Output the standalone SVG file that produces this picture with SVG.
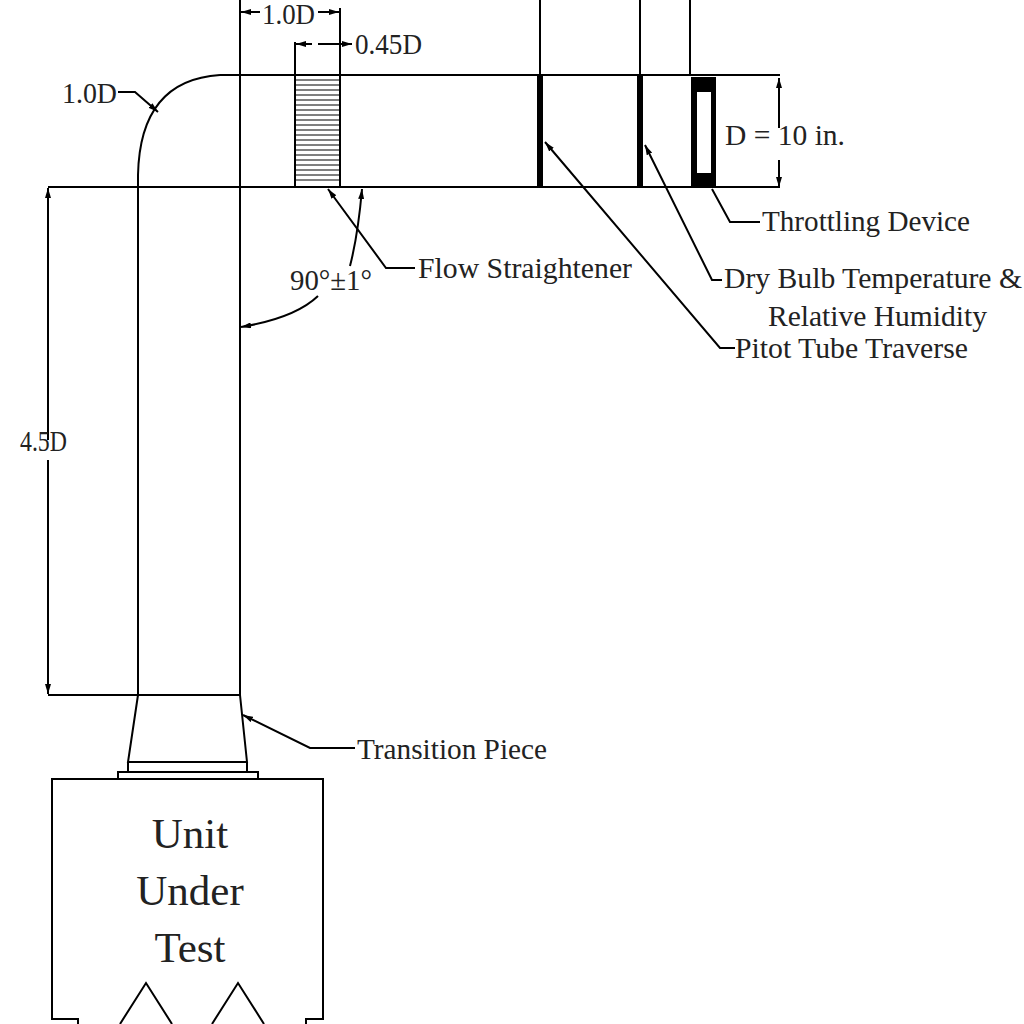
<svg xmlns="http://www.w3.org/2000/svg" width="1024" height="1024" viewBox="0 0 1024 1024">
<style>
.l{stroke:#000;stroke-width:2;fill:none}
.t{font-family:"Liberation Serif",serif;font-size:29px;fill:#222}
.b{font-family:"Liberation Serif",serif;font-size:43px;fill:#222;text-anchor:middle}
</style>
<defs>
<marker id="a" viewBox="0 0 10 6" refX="10" refY="3" markerWidth="10" markerHeight="6" orient="auto-start-reverse" markerUnits="userSpaceOnUse"><path d="M0,0L10,3L0,6z"/></marker>
</defs>
<rect width="1024" height="1024" fill="#fff"/>
<g id="duct">
<path class="l" d="M220,75H780M48,187H780M220,75Q140,80 138,175V695M240,0V695M48,695H240"/>
<path class="l" d="M540,0V75M640,0V75M690,0V75"/>
<rect x="537" y="75" width="6" height="112"/>
<rect x="637" y="75" width="6" height="112"/>
<rect x="691" y="77" width="25" height="111"/>
<rect x="697" y="92" width="14" height="81" fill="#fff"/>
</g>
<g id="straightener">
<rect class="l" x="295" y="75" width="45" height="112"/>
<path stroke="#000" stroke-width="1" d="M295,80H340M295,85H340M295,90H340M295,95H340M295,100H340M295,105H340M295,110H340M295,115H340M295,120H340M295,125H340M295,130H340M295,135H340M295,140H340M295,145H340M295,150H340M295,155H340M295,160H340M295,165H340M295,170H340M295,175H340M295,180H340"/>
</g>
<g id="transition">
<path class="l" d="M138,695L128,762H247L240,695M118,772H258V779H118zM128,762V772M247,762V772"/>
</g>
<g id="unit">
<path class="l" d="M78,1024V1019H52V779H323V1019H306V1024"/>
<path class="l" d="M120,1024L146,983L172,1024M212,1024L238,983L264,1024"/>
<text class="b" x="190" y="848">Unit</text>
<text class="b" x="190" y="905">Under</text>
<text class="b" x="190" y="962">Test</text>
</g>
<g id="connectors">
<path class="l" d="M340,8V75M295,42V75"/>
<path class="l" marker-end="url(#a)" d="M260,12H241"/>
<path class="l" marker-end="url(#a)" d="M318,12H339"/>
<path class="l" marker-end="url(#a)" d="M312,44H296"/>
<path class="l" marker-end="url(#a)" d="M318,44H339M339,44H352"/>
<path class="l" marker-end="url(#a)" d="M779,128V78"/>
<path class="l" marker-end="url(#a)" d="M779,160V187"/>
<path class="l" marker-end="url(#a)" d="M48,440V188"/>
<path class="l" marker-end="url(#a)" d="M48,460V694"/>
<path class="l" marker-end="url(#a)" d="M118,92H135L158,112"/>
<path class="l" marker-end="url(#a)" d="M350,266Q358,235 362,189"/>
<path class="l" marker-end="url(#a)" d="M318,296Q295,318 241,327"/>
<path class="l" marker-end="url(#a)" d="M415,268H386L328,189"/>
<path class="l" marker-end="url(#a)" d="M735,348H720L545,142"/>
<path class="l" marker-end="url(#a)" d="M722,280H712L645,145"/>
<path class="l" d="M760,222H730L712,189"/>
<path class="l" marker-end="url(#a)" d="M355,748H310L243,715"/>
</g>
<g id="labels">
<text class="t" x="262" y="24" textLength="53" lengthAdjust="spacingAndGlyphs">1.0D</text>
<text class="t" x="355" y="54" textLength="67" lengthAdjust="spacingAndGlyphs">0.45D</text>
<text class="t" x="62" y="103" textLength="55" lengthAdjust="spacingAndGlyphs">1.0D</text>
<text class="t" x="725" y="145" textLength="120" lengthAdjust="spacingAndGlyphs">D = 10 in.</text>
<text class="t" x="762" y="231" textLength="208" lengthAdjust="spacingAndGlyphs">Throttling Device</text>
<text class="t" x="418" y="278" textLength="214" lengthAdjust="spacingAndGlyphs">Flow Straightener</text>
<text class="t" x="290" y="290" textLength="82" lengthAdjust="spacingAndGlyphs">90°±1°</text>
<text class="t" x="724" y="288" textLength="298" lengthAdjust="spacingAndGlyphs">Dry Bulb Temperature &amp;</text>
<text class="t" x="768" y="326" textLength="219" lengthAdjust="spacingAndGlyphs">Relative Humidity</text>
<text class="t" x="735" y="358" textLength="233" lengthAdjust="spacingAndGlyphs">Pitot Tube Traverse</text>
<text class="t" x="20" y="451" textLength="47" lengthAdjust="spacingAndGlyphs">4.5D</text>
<text class="t" x="357" y="759" textLength="190" lengthAdjust="spacingAndGlyphs">Transition Piece</text>
</g>
</svg>
